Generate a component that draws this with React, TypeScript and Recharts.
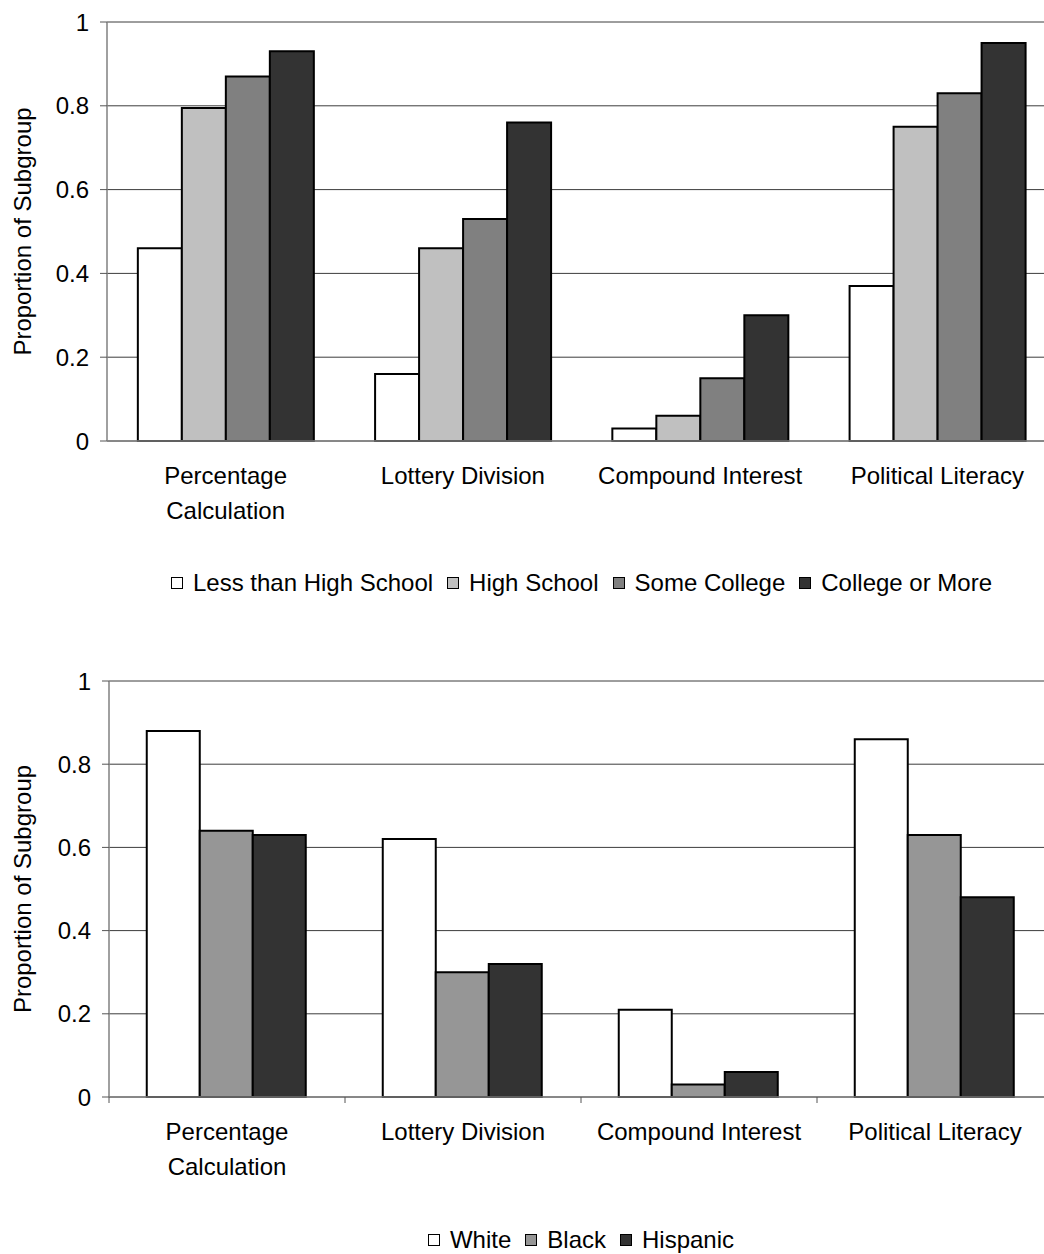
import React from "react";
import {
  BarChart,
  Bar,
  XAxis,
  YAxis,
  CartesianGrid,
  Legend,
  Label,
} from "recharts";

const categories = [
  "Percentage Calculation",
  "Lottery Division",
  "Compound Interest",
  "Political Literacy",
];
// how each category label breaks over lines
const categoryLines = [
  ["Percentage", "Calculation"],
  ["Lottery Division"],
  ["Compound Interest"],
  ["Political Literacy"],
];

const lessThanHighSchool = [0.46, 0.16, 0.03, 0.37];
const highSchool = [0.795, 0.46, 0.06, 0.75];
const someCollege = [0.87, 0.53, 0.15, 0.83];
const collegeOrMore = [0.93, 0.76, 0.3, 0.95];

const white = [0.88, 0.62, 0.21, 0.86];
const black = [0.64, 0.3, 0.03, 0.63];
const hispanic = [0.63, 0.32, 0.06, 0.48];

const yTicks = [0, 0.2, 0.4, 0.6, 0.8, 1];

const educationSeries = [
  { key: "lessHS", name: "Less than High School", values: lessThanHighSchool, color: "#ffffff" },
  { key: "hs", name: "High School", values: highSchool, color: "#c0c0c0" },
  { key: "someCollege", name: "Some College", values: someCollege, color: "#808080" },
  { key: "collegeMore", name: "College or More", values: collegeOrMore, color: "#333333" },
];

const raceSeries = [
  { key: "white", name: "White", values: white, color: "#ffffff" },
  { key: "black", name: "Black", values: black, color: "#969696" },
  { key: "hispanic", name: "Hispanic", values: hispanic, color: "#333333" },
];

const FONT = "'Liberation Sans', Arial, sans-serif";
const FONT_SIZE = 24;

function buildRows(series: any[]) {
  return categories.map((name, i) => {
    const row: any = { name, idx: i };
    series.forEach((s) => {
      row[s.key] = s.values[i];
    });
    return row;
  });
}

function CategoryTick(props: any) {
  const { x, y, payload, index, width, visibleTicksCount, boundaryTicks } = props;
  const lines = categoryLines[index] || [String(payload.value)];
  const half =
    payload && typeof payload.offset === "number" && payload.offset > 0
      ? payload.offset
      : width / visibleTicksCount / 2;
  return (
    <g>
      {boundaryTicks && (
        <line x1={x - half} x2={x - half} y1={y} y2={y + 6} stroke="#555" strokeWidth={1} />
      )}
      <text
        x={x}
        y={y}
        textAnchor="middle"
        fontFamily={FONT}
        fontSize={FONT_SIZE}
        fill="#000"
      >
        {lines.map((ln: string, k: number) => (
          <tspan key={k} x={x} dy={k === 0 ? 43 : 35}>
            {ln}
          </tspan>
        ))}
      </text>
    </g>
  );
}

function YTitle(props: any) {
  const vb = props.viewBox || {};
  const cx = vb.x + 22;
  const cy = vb.y + vb.height / 2;
  return (
    <text
      x={cx}
      y={cy}
      transform={`rotate(-90 ${cx} ${cy})`}
      textAnchor="middle"
      dominantBaseline="central"
      fontFamily={FONT}
      fontSize={FONT_SIZE}
      fill="#000"
    >
      Proportion of Subgroup
    </text>
  );
}

function makeLegend(series: any[], topPad: number, boxHeight: number) {
  return () => (
    <div
      style={{
        height: boxHeight,
        paddingTop: topPad,
        boxSizing: "border-box",
        display: "flex",
        justifyContent: "center",
        fontFamily: FONT,
        fontSize: FONT_SIZE,
        color: "#000",
      }}
    >
      {series.map((s, i) => (
        <div
          key={s.key}
          style={{
            display: "flex",
            alignItems: "center",
            height: 26,
            marginLeft: i === 0 ? 0 : 14,
          }}
        >
          <span
            style={{
              display: "inline-block",
              width: 12,
              height: 12,
              boxSizing: "border-box",
              border: "1.5px solid #000",
              background: s.color,
              marginRight: 10,
            }}
          />
          <span style={{ whiteSpace: "nowrap" }}>{s.name}</span>
        </div>
      ))}
    </div>
  );
}

function SubgroupChart({
  series,
  height,
  marginTop,
  marginRight,
  yAxisWidth,
  gap,
  legendHeight,
  legendPad,
  boundaryTicks,
}: any) {
  const rows = buildRows(series);
  return (
    <BarChart
      width={1060}
      height={height}
      data={rows}
      margin={{ top: marginTop, right: marginRight, left: 0, bottom: 0 }}
      barCategoryGap={gap}
      barGap={0}
    >
      <CartesianGrid horizontal vertical={false} stroke="#3c3c3c" strokeWidth={1} />
      <XAxis
        dataKey="name"
        height={90}
        axisLine={{ stroke: "#808080", strokeWidth: 1.5 }}
        tickLine={false}
        tickSize={0}
        tickMargin={0}
        interval={0}
        tick={<CategoryTick boundaryTicks={boundaryTicks} />}
      />
      <YAxis
        width={yAxisWidth}
        domain={[0, 1]}
        ticks={yTicks}
        interval={0}
        axisLine={{ stroke: "#808080", strokeWidth: 1.5 }}
        tickLine={{ stroke: "#555" }}
        tickSize={7}
        tickMargin={11}
        tick={{ fontFamily: FONT, fontSize: FONT_SIZE, fill: "#000" }}
        tickFormatter={(v: number) => String(v)}
      >
        <Label content={<YTitle />} />
      </YAxis>
      <Legend
        verticalAlign="bottom"
        content={makeLegend(series, legendPad, legendHeight)}
        wrapperStyle={{ left: yAxisWidth, width: 1060 - yAxisWidth - marginRight }}
      />
      {series.map((s: any) => (
        <Bar
          key={s.key}
          dataKey={s.key}
          name={s.name}
          fill={s.color}
          stroke="#000"
          strokeWidth={2}
          isAnimationActive={false}
        />
      ))}
    </BarChart>
  );
}

export default function App() {
  return (
    <div
      style={{
        position: "absolute",
        left: 0,
        top: 0,
        width: 1044,
        height: 1254,
        overflow: "hidden",
        background: "#fff",
      }}
    >
      <div style={{ position: "absolute", left: 0, top: 0 }}>
        <SubgroupChart
          series={educationSeries}
          height={620}
          marginTop={22}
          marginRight={4}
          yAxisWidth={107}
          gap="13%"
          legendHeight={89}
          legendPad={39}
          boundaryTicks={false}
        />
      </div>
      <div style={{ position: "absolute", left: 0, top: 640 }}>
        <SubgroupChart
          series={raceSeries}
          height={614}
          marginTop={41}
          marginRight={7}
          yAxisWidth={109}
          gap="16%"
          legendHeight={67}
          legendPad={40}
          boundaryTicks={true}
        />
      </div>
    </div>
  );
}
